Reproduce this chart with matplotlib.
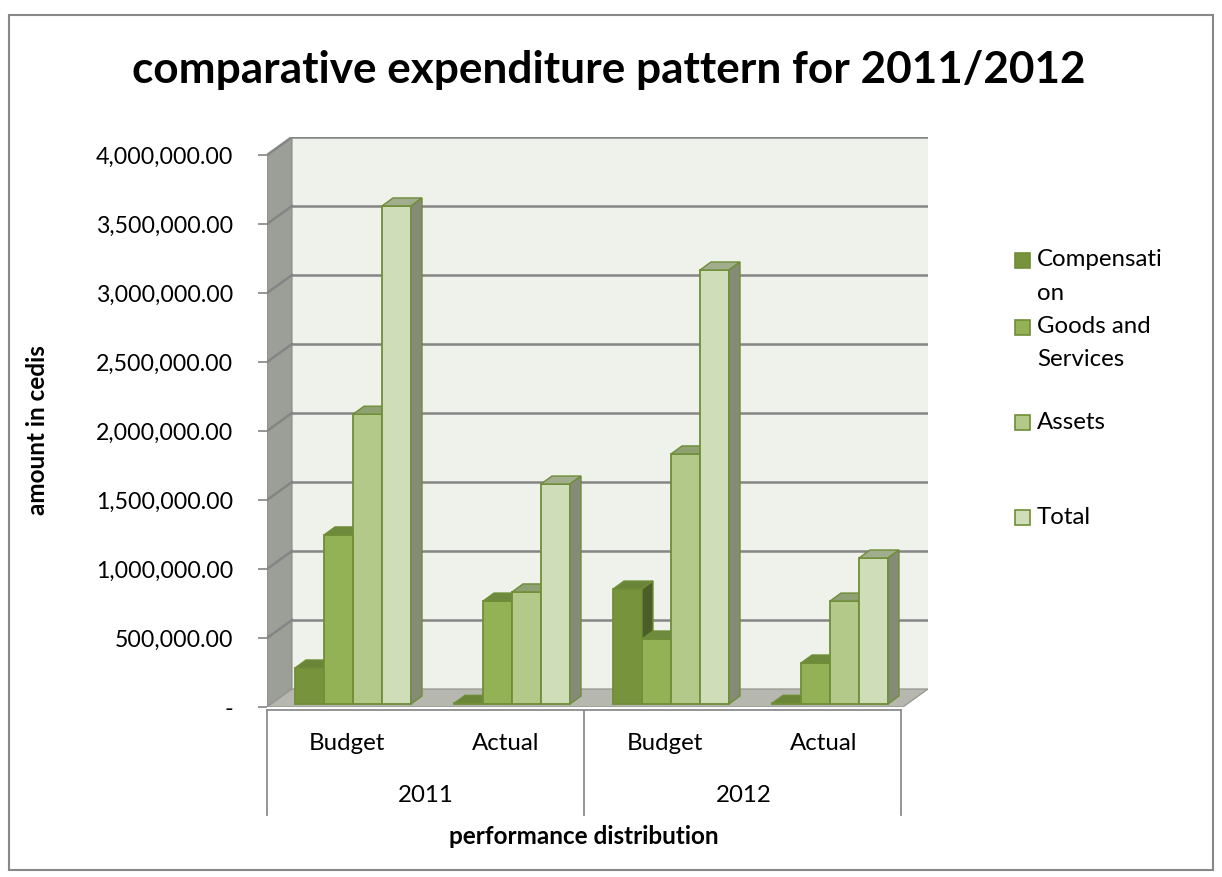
import matplotlib
matplotlib.use("Agg")
import matplotlib.pyplot as plt
import matplotlib.transforms as mtransforms
from matplotlib.patches import Polygon, Rectangle
from matplotlib.lines import Line2D

# data
years = ["2011", "2012"]
kinds = ["Budget", "Actual"]
series = ["Compensation", "Goods and Services", "Assets", "Total"]
legend_labels = [["Compensati", "on"], ["Goods and", "Services"], ["Assets"], ["Total"]]
compensation = [261000, 5000, 833000, 5000]
goods = [1225000, 746000, 471000, 297000]
assets = [2100000, 812000, 1812000, 746000]
total = [3609000, 1594000, 3145000, 1058000]
values = [compensation, goods, assets, total]
yticks = [0, 500000, 1000000, 1500000, 2000000, 2500000, 3000000, 3500000, 4000000]

front = ["#77933C", "#93B155", "#B2C98A", "#CFDDB9"]
top_c = ["#6A8538", "#6E8A3C", "#8FA171", "#A1AD8D"]
side_c = ["#4B5E28", "#5E7733", "#7F8C68", "#858B77"]
edge = "#6F8E37"

W, H = 1222, 877
fig = plt.figure(figsize=(W / 100, H / 100), dpi=100)
plt.rcParams['font.family'] = ['Lato', 'DejaVu Sans']


def fx(px):
    return px / W


def fy(py):
    return 1 - py / H


# pixel geometry of the 3D box
left_px, right_px, zero_px, top_px = 267, 928, 707, 137
k = 4000000 / 552.0          # value per pixel
ux = 1 / 159.0               # category unit per pixel
DX, DY = 25 * ux, 18 * k
ax = fig.add_axes([fx(left_px), fy(zero_px), fx(right_px - left_px), (zero_px - top_px) / H])
ax.set_xlim(0, 4 + DX)
ax.set_ylim(0, 4000000 + DY)
for s in ax.spines.values():
    s.set_visible(False)
ax.set_xticks([])
ax.set_facecolor("none")

grid_c = "#858585"
# walls and floor
ax.add_patch(Polygon([(DX, DY), (4 + DX, DY), (4 + DX, 4000000 + DY), (DX, 4000000 + DY)],
                     closed=True, facecolor="#EFF2EB", edgecolor="none", zorder=0))
ax.add_patch(Polygon([(0, 0), (DX, DY), (DX, 4000000 + DY), (0, 4000000)],
                     closed=True, facecolor="#9C9E98", edgecolor="#8A8C86", lw=0.8, zorder=0.5))
ax.add_patch(Polygon([(0, 0), (4, 0), (4 + DX, DY), (DX, DY)],
                     closed=True, facecolor="#B6B8B0", edgecolor="#94968F", lw=0.9, zorder=0.5))
for v in yticks:
    if v == 0:
        continue
    ax.plot([DX, 4 + DX], [v + DY, v + DY], color=grid_c, lw=1.8, zorder=0.6)
    ax.plot([0, DX], [v, v + DY], color=grid_c, lw=1.8, zorder=0.6)

# y axis ticks
ax.set_yticks(yticks)
ax.set_yticklabels(["-" if v == 0 else f"{v:,.2f}" for v in yticks])
ax.tick_params(axis="y", length=6.5, width=1.2, color=grid_c, pad=18, labelsize=16.7)

# 3D bars
bw = 29 * ux
goff = 28 * ux
b0 = 3 * k
bdx, bdy = 11 * ux, 8 * k
z = 2
for g in range(4):
    for s in range(4):
        x0 = g + goff + s * bw
        v = values[s][g]
        ax.bar(x0, v, width=bw, bottom=b0, align="edge", color=front[s],
               edgecolor=edge, lw=1.3, zorder=z)
        t = b0 + v
        ax.add_patch(Polygon([(x0, t), (x0 + bw, t), (x0 + bw + bdx, t + bdy), (x0 + bdx, t + bdy)],
                             closed=True, facecolor=top_c[s], edgecolor=edge, lw=1.0, zorder=z + 0.1))
        ax.add_patch(Polygon([(x0 + bw, b0), (x0 + bw + bdx, b0 + bdy), (x0 + bw + bdx, t + bdy), (x0 + bw, t)],
                             closed=True, facecolor=side_c[s], edgecolor=edge, lw=1.0, zorder=z + 0.1))
        z += 1

# category axis
axis_c = "#8C8C8C"
fig.add_artist(Line2D([fx(267), fx(901)], [fy(710), fy(710)], color=axis_c, lw=1.3))
for px in [267, 584, 901]:
    fig.add_artist(Line2D([fx(px), fx(px)], [fy(710), fy(815)], color=axis_c, lw=1.3))
tr = mtransforms.blended_transform_factory(ax.transData, fig.transFigure)
for g in range(4):
    ax.text(g + 0.5, fy(744), kinds[g % 2], transform=tr, ha="center", va="center", fontsize=17.3)
for i, yr in enumerate(years):
    ax.text(2 * i + 1, fy(796), yr, transform=tr, ha="center", va="center", fontsize=17.3)

fig.text(fx(584), fy(837), "performance distribution", ha="center", va="center",
         fontsize=17.5, fontweight="bold")
fig.text(fx(38), fy(430), "amount in cedis", ha="center", va="center", rotation=90,
         fontsize=17.5, fontweight="bold")
fig.text(fx(609), fy(70), "comparative expenditure pattern for 2011/2012", ha="center",
         va="center", fontsize=31.8, fontweight="bold")

# legend
entry_y = [260, 327, 422, 517]
for s in range(4):
    y = entry_y[s]
    fig.add_artist(Rectangle((fx(1015), fy(y + 8)), 15 / W, 15 / H, transform=fig.transFigure,
                             facecolor=front[s], edgecolor=edge, lw=1.2))
    for j, line in enumerate(legend_labels[s]):
        fig.text(fx(1037), fy(y + j * 33), line, ha="left", va="center", fontsize=17.3)

# chart frame
fig.add_artist(Rectangle((fx(9), fy(870)), (1213 - 9) / W, (870 - 15) / H, transform=fig.transFigure,
                         facecolor="none", edgecolor="#888888", lw=1.5))

fig.savefig("out.png", dpi=100)
